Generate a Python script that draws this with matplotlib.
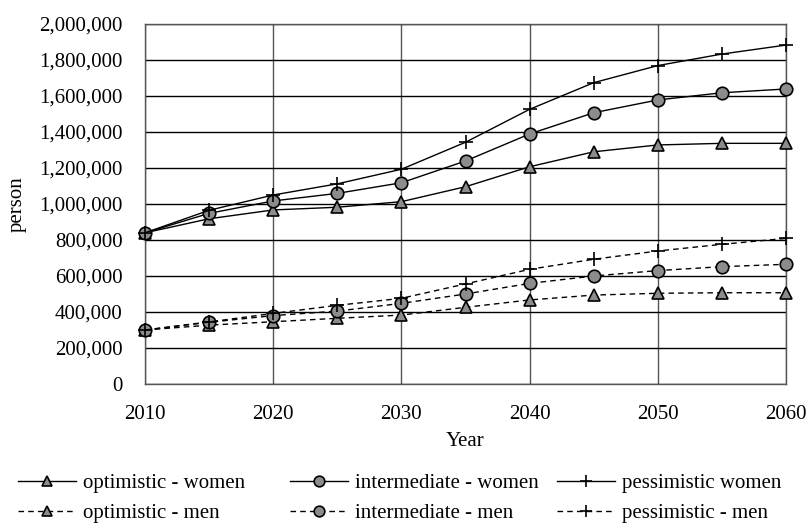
import matplotlib
matplotlib.use('Agg')
import matplotlib.pyplot as plt
from matplotlib.ticker import FuncFormatter

plt.rcParams['font.family'] = ['Liberation Serif', 'DejaVu Serif']

years = [2010, 2015, 2020, 2025, 2030, 2035, 2040, 2045, 2050, 2055, 2060]

opt_women = [840000, 918000, 967000, 982000, 1013000, 1096000, 1207000, 1290000, 1328000, 1337000, 1337000]
int_women = [840000, 948000, 1017000, 1059000, 1118000, 1239000, 1389000, 1507000, 1578000, 1618000, 1639000]
pes_women = [840000, 965000, 1050000, 1112000, 1193000, 1343000, 1526000, 1674000, 1769000, 1833000, 1883000]

opt_men = [300000, 327000, 346000, 365000, 383000, 426000, 467000, 494000, 504000, 507000, 507000]
int_men = [300000, 343000, 380000, 405000, 448000, 500000, 559000, 600000, 630000, 652000, 665000]
pes_men = [300000, 345000, 392000, 437000, 476000, 556000, 637000, 693000, 739000, 776000, 809000]

labels = ['optimistic - women', 'intermediate - women', 'pessimistic women',
          'optimistic - men', 'intermediate - men', 'pessimistic - men']

fig = plt.figure(figsize=(8.08, 5.28), dpi=100)
ax = fig.add_axes([145 / 808, 1 - 384 / 528, (786 - 145) / 808, (384 - 24) / 528])

gray = '#8c8c8c'
common = dict(color='black', lw=1.0, markeredgecolor='black', markeredgewidth=1.2)

series = [
    (opt_women, '^', '-', labels[0]),
    (int_women, 'o', '-', labels[1]),
    (pes_women, '+', '-', labels[2]),
    (opt_men, '^', '--', labels[3]),
    (int_men, 'o', '--', labels[4]),
    (pes_men, '+', '--', labels[5]),
]
lines = {}
for vals, mk, ls, lab in series:
    ms = 10 if mk == '+' else 9
    ln, = ax.plot(years, vals, marker=mk, ls=ls, markersize=ms,
                  markerfacecolor=gray, label=lab, clip_on=False, zorder=3, **common)
    if ls == '--':
        ln.set_dashes([4, 3])
    lines[lab] = ln

ax.set_xlim(2010, 2060)
ax.set_ylim(0, 2000000)
ax.set_xticks([2010, 2020, 2030, 2040, 2050, 2060])
ax.set_yticks(range(0, 2000001, 200000))
ax.yaxis.set_major_formatter(FuncFormatter(lambda v, p: f'{int(v):,}'))
ax.tick_params(length=0, labelsize=15)
ax.tick_params(axis='x', pad=15)
ax.tick_params(axis='y', pad=16)
ax.yaxis.grid(True, color='black', lw=1.0)
ax.xaxis.grid(True, color='#555555', lw=1.0)
ax.set_axisbelow(True)
for s in ax.spines.values():
    s.set_color('#555555')
    s.set_linewidth(1.0)

ax.set_xlabel('Year', fontsize=15, labelpad=6)
ax.set_ylabel('person', fontsize=15, labelpad=9)

# legend: three columns placed by hand
col_x = [18, 290, 557]
for i, x in enumerate(col_x):
    pair = [labels[i], labels[i + 3]]
    fig.legend([lines[l] for l in pair], pair, loc='center left',
               bbox_to_anchor=(x / 808, 1 - 498.5 / 528), frameon=False, fontsize=15,
               borderpad=0, borderaxespad=0, handlelength=2.8, handletextpad=0.3,
               labelspacing=0.5, markerscale=0.85)

fig.savefig('out.png', dpi=100)
